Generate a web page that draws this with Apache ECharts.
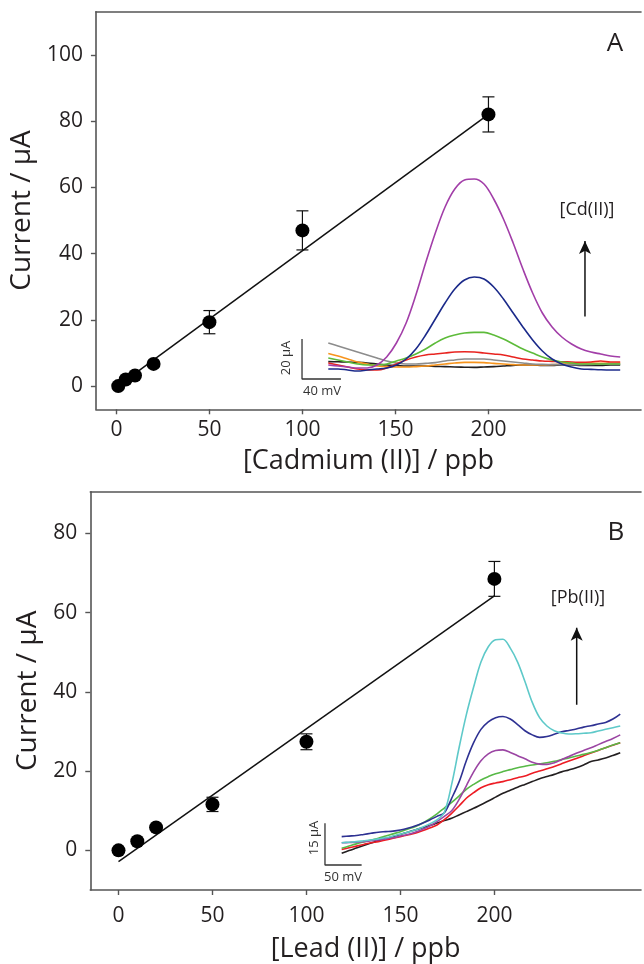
<!DOCTYPE html>
<html><head><meta charset="utf-8">
<script src="https://cdn.jsdelivr.net/npm/echarts@6/dist/echarts.min.js"></script>
<style>html,body{margin:0;padding:0;background:#fff}#c{width:644px;height:964px}</style>
</head><body><div id="c"></div>
<script>
// ---------- Panel A: Cadmium ----------
const cdConc = [1, 5, 10, 20, 50, 100, 200];
const cdCurrent = [0, 2, 3.2, 6.7, 19.3, 47, 82];
const cdErr = [0, 0, 0, 0, 3.5, 5.9, 5.3];
const cdFit = [[0, -0.3], [200, 82]];
const cdXTicks = [0, 50, 100, 150, 200];
const cdYTicks = [0, 20, 40, 60, 80, 100];

// Inset A voltammograms (mV, uA)
const cdPotential = [0,10,20,30,40,50,60,70,80,90,100,110,120,130,140,150,160,170,180,190,200,210,220,230,240,250,260,270,280,290,300];
const cdPurple = [7,6.5,6,5.5,5.5,7,11,18,28,42,58,73,86,95,99.5,100,97.5,90,80,68,55,43,33,26,21,17.5,15,13.5,12.5,11.5,11];
const cdNavy = [5,5,4.5,4,4.5,5,5.5,7,10,15,22,30,38,45,49.5,51,50,46,40,33,26,19.5,14,10,7.5,6,5,4.8,4.6,4.5,4.5];
const cdGreen = [10.5,9.5,8.5,7.5,7,7,7.5,9,10.5,12.5,15,18,20.5,22,23,23.3,23.3,22,20,17.5,15,13,11,9.5,8.5,8,7.5,7.5,7.5,7.5,7.5];
const cdRed = [8,7,6,5,4.5,4.5,5.5,7.5,9.5,11,12,12.5,13,13.5,13.6,13.5,13,12.5,12,11,10,9.5,9,8.8,8.6,8.5,8.3,8.5,9,8.5,8.5];
const cdGray = [18,16.5,15,13.5,12,10.5,9,8,7.5,7.5,7.8,8.2,9,9.5,10,10,10,9.5,9,8.5,8,7.5,7.3,7.2,7.2,7.2,7.2,7.3,7.4,7.5,7.5];
const cdOrange = [12.8,11.5,10,8.5,7.5,6.5,6.2,6,6,6.2,6.5,7,7.5,8,8.3,8.3,8.2,7.8,7.5,7.2,7,7,7,7.2,7.5,7.8,8,8,7.8,7.8,8];
const cdBlack = [8.7,8.6,8.5,8.3,8,7.5,7,6.8,6.5,6.5,6.5,6.3,6.2,6,5.9,5.8,6,6.2,6.5,6.8,7,7,6.8,6.8,7,7,6.8,6.8,6.8,7,7];

// ---------- Panel B: Lead ----------
const pbConc = [0, 10, 20, 50, 100, 200];
const pbCurrent = [0, 2.3, 5.8, 11.6, 27.4, 68.5];
const pbErr = [0, 0, 0, 1.8, 2, 4.4];
const pbFit = [[0, -2.85], [200, 64.2]];
const pbXTicks = [0, 50, 100, 150, 200];
const pbYTicks = [0, 20, 40, 60, 80];

const pbPotential = [0,10,20,30,40,50,60,70,80,90,100,110,120,130,140,150,160,170,180,190,200,210,220,230,240,250,260,270,280,290,300,310,320,330,340,350,360,370,380];
const pbNavy = [10.2,10.4,10.6,11,11.4,11.8,12,12.2,12.6,13.2,14,15,16.2,17.5,18.8,24,29.8,37.5,44,48.8,51.5,53,53.4,52.5,50.5,48.3,46.8,45.9,46.2,47,47.9,48.4,48.9,49.6,50.1,50.7,51.3,52.5,54.3];
const pbCyan = [8,8.2,8.4,8.7,9,9.4,9.8,10.4,11.1,11.8,12.6,13.6,14.8,16.2,19,29,42,54,64,73,78.5,81,81.2,78,73,66,58.5,53,50,48.3,47.5,47.1,47.2,47.4,47.6,48.2,48.8,49.4,50];
const pbPurple = [8,8.1,8.2,8.4,8.7,9,9.4,9.8,10.4,11,11.8,12.8,14,15.6,17.5,19.5,23.5,28.5,33.5,37.5,40,41.2,41.4,40.5,39.3,38.2,37,36.3,36.2,36.8,37.9,39,40.2,41.2,42.2,43.3,44.4,45.5,46.8];
const pbGreen = [6,6.8,7.6,8.3,9,9.6,10.4,11.2,12,12.9,13.8,15,16.6,18.4,20.5,22.5,24.8,27.2,29,30.6,31.8,32.8,33.6,34.3,35,35.5,36,36.4,36.8,37.3,37.9,38.5,39.2,39.8,40.5,41.3,42.2,43.2,44];
const pbRed = [5.6,6.2,6.8,7.4,8,8.4,9,9.6,10.2,10.8,11.4,12.3,13.3,14.4,16.3,18.6,21.2,24,26,27.8,28.9,29.5,30,30.7,31.4,32,33,33.8,34.6,35.4,36.4,37.4,38.3,39.3,40.3,41.2,42.2,43.1,44];
const pbBlack = [4.2,5.2,6.1,7,7.9,8.8,9.5,10.2,11,11.8,12.6,13.4,14.2,15.1,16,16.8,18,19.2,20.4,21.7,23,24.4,25.8,26.9,28,29,30,31,31.8,32.6,33.5,34.2,35,36,37.2,37.8,38.5,39.4,40.4];

const FONT = "'Open Sans', 'DejaVu Sans', sans-serif";
const TXT = '#231f20';
const AX = '#555';

function zip(xs, ys) { return xs.map((x, i) => [x, ys[i]]); }
function errData(xs, ys, es) {
  const out = [];
  xs.forEach((x, i) => { if (es[i] > 0) out.push([x, ys[i] - es[i], ys[i] + es[i]]); });
  return out;
}
function errRender(params, api) {
  const x = api.value(0), lo = api.value(1), hi = api.value(2);
  const p1 = api.coord([x, hi]), p2 = api.coord([x, lo]);
  const w = 6;
  const style = { stroke: '#111', lineWidth: 1.2 };
  return { type: 'group', children: [
    { type: 'line', shape: { x1: p1[0], y1: p1[1], x2: p2[0], y2: p2[1] }, style },
    { type: 'line', shape: { x1: p1[0] - w, y1: p1[1], x2: p1[0] + w, y2: p1[1] }, style },
    { type: 'line', shape: { x1: p2[0] - w, y1: p2[1], x2: p2[0] + w, y2: p2[1] }, style }
  ]};
}

function mainX(gi, min, max, ticks, name, labelMargin, nameGap) {
  return {
    type: 'value', gridIndex: gi, min, max, position: 'bottom',
    splitLine: { show: false },
    axisLine: { show: true, onZero: false, lineStyle: { color: AX, width: 1.6 } },
    axisTick: { show: true, inside: false, length: 5, customValues: ticks, lineStyle: { color: AX, width: 1.4 } },
    axisLabel: { customValues: ticks, fontSize: 21, fontFamily: FONT, color: TXT, margin: labelMargin },
    name, nameLocation: 'middle', nameGap,
    nameTextStyle: { fontSize: 27, fontFamily: FONT, color: TXT }
  };
}
function topX(gi, min, max) {
  return { type: 'value', gridIndex: gi, min, max, position: 'top',
    splitLine: { show: false }, axisTick: { show: false }, axisLabel: { show: false },
    axisLine: { show: true, onZero: false, lineStyle: { color: AX, width: 1.6 } } };
}
function mainY(gi, min, max, ticks, nameGap) {
  return {
    type: 'value', gridIndex: gi, min, max,
    splitLine: { show: false },
    axisLine: { show: true, onZero: false, lineStyle: { color: AX, width: 1.6 } },
    axisTick: { show: true, inside: false, length: 5, customValues: ticks, lineStyle: { color: AX, width: 1.4 } },
    axisLabel: { customValues: ticks, fontSize: 21, fontFamily: FONT, color: TXT, margin: 13 },
    name: 'Current / μA', nameLocation: 'middle', nameGap: nameGap, nameRotate: 90,
    nameTextStyle: { fontSize: 28, fontFamily: FONT, color: TXT }
  };
}
function hiddenAxis(gi, min, max) {
  return { type: 'value', gridIndex: gi, min, max, show: false, splitLine: { show: false } };
}
function curve(xi, yi, xs, ys, color) {
  return { type: 'line', xAxisIndex: xi, yAxisIndex: yi, data: zip(xs, ys), showSymbol: false,
    smooth: 0.35, lineStyle: { color, width: 1.6 }, itemStyle: { color }, silent: true, z: 3 };
}
function arrow(xi, yi, x, y0, y1) {
  return { type: 'line', xAxisIndex: xi, yAxisIndex: yi, showSymbol: true, showAllSymbol: true,
    data: [ { value: [x, y0], symbol: 'none' }, { value: [x, y1], symbol: 'arrow', symbolSize: [9, 13] } ],
    itemStyle: { color: '#111', opacity: 1 }, lineStyle: { color: '#111', width: 1.5 }, z: 4 };
}

const chart = echarts.init(document.getElementById('c'), null, { renderer: 'canvas' });
const option = {
  animation: false,
  backgroundColor: '#fff',
  grid: [
    { left: 91, top: 11.7, width: 550, height: 397.6 },
    { left: 90.3, top: 491.7, width: 550.7, height: 398.3 },
    { left: 299.1, top: 159, width: 321.1, height: 240 },
    { left: 319.7, top: 614.8, width: 302, height: 264.1 }
  ],
  xAxis: [
    mainX(0, -11, 282, cdXTicks, '[Cadmium (II)] / ppb', 10, 39),
    topX(0, -11, 282),
    mainX(1, -15, 278, pbXTicks, '[Lead (II)] / ppb', 16, 46),
    topX(1, -15, 278),
    hiddenAxis(2, -30, 300),
    hiddenAxis(3, -30, 382)
  ],
  yAxis: [
    mainY(0, -7, 113, cdYTicks, 48),
    mainY(1, -10, 90.5, pbYTicks, 48),
    hiddenAxis(2, -10, 110),
    hiddenAxis(3, -5, 90)
  ],
  series: [
    // Panel A
    { type: 'line', xAxisIndex: 0, yAxisIndex: 0, data: cdFit, showSymbol: false, lineStyle: { color: '#111', width: 1.5 }, z: 2 },
    { type: 'custom', xAxisIndex: 0, yAxisIndex: 0, data: errData(cdConc, cdCurrent, cdErr), renderItem: errRender, z: 4 },
    { type: 'scatter', xAxisIndex: 0, yAxisIndex: 0, data: zip(cdConc, cdCurrent), symbolSize: 14, itemStyle: { color: '#000', opacity: 1 }, z: 5 },
    curve(4, 2, cdPotential, cdBlack, '#231f20'),
    curve(4, 2, cdPotential, cdOrange, '#f7941d'),
    curve(4, 2, cdPotential, cdGray, '#8c8c8c'),
    curve(4, 2, cdPotential, cdRed, '#e8231f'),
    curve(4, 2, cdPotential, cdGreen, '#5dbb3a'),
    curve(4, 2, cdPotential, cdNavy, '#1b2a8a'),
    curve(4, 2, cdPotential, cdPurple, '#a23ea8'),
    { type: 'line', xAxisIndex: 4, yAxisIndex: 2, data: [[-27, 20], [-27, 0], [13, 0]], showSymbol: false, lineStyle: { color: '#333', width: 1.3 } },
    arrow(4, 2, 263.8, 31.2, 69),
    // Panel B
    { type: 'line', xAxisIndex: 2, yAxisIndex: 1, data: pbFit, showSymbol: false, lineStyle: { color: '#111', width: 1.5 }, z: 2 },
    { type: 'custom', xAxisIndex: 2, yAxisIndex: 1, data: errData(pbConc, pbCurrent, pbErr), renderItem: errRender, z: 4 },
    { type: 'scatter', xAxisIndex: 2, yAxisIndex: 1, data: zip(pbConc, pbCurrent), symbolSize: 14, itemStyle: { color: '#000', opacity: 1 }, z: 5 },
    curve(5, 3, pbPotential, pbBlack, '#231f20'),
    curve(5, 3, pbPotential, pbRed, '#ed1c24'),
    curve(5, 3, pbPotential, pbGreen, '#57b947'),
    curve(5, 3, pbPotential, pbPurple, '#9b45a3'),
    curve(5, 3, pbPotential, pbNavy, '#2e3192'),
    curve(5, 3, pbPotential, pbCyan, '#5ec9c9'),
    { type: 'line', xAxisIndex: 5, yAxisIndex: 3, data: [[-22.8, 15], [-22.8, 0], [27.2, 0]], showSymbol: false, lineStyle: { color: '#333', width: 1.3 } },
    arrow(5, 3, 320.6, 57.6, 85.3)
  ],
  graphic: [
    { type: 'text', x: 615, y: 44, style: { text: 'A', font: '26px ' + FONT, fill: TXT, textAlign: 'center', textVerticalAlign: 'middle' } },
    { type: 'text', x: 616, y: 533, style: { text: 'B', font: '26px ' + FONT, fill: TXT, textAlign: 'center', textVerticalAlign: 'middle' } },
    { type: 'text', x: 587, y: 210, style: { text: '[Cd(II)]', font: '18px ' + FONT, fill: TXT, textAlign: 'center', textVerticalAlign: 'middle' } },
    { type: 'text', x: 578, y: 598, style: { text: '[Pb(II)]', font: '18px ' + FONT, fill: TXT, textAlign: 'center', textVerticalAlign: 'middle' } },
    { type: 'text', x: 286, y: 358, rotation: Math.PI / 2, style: { text: '20 μA', font: '13px ' + FONT, fill: '#333', textAlign: 'center', textVerticalAlign: 'middle' } },
    { type: 'text', x: 322, y: 391, style: { text: '40 mV', font: '13px ' + FONT, fill: '#333', textAlign: 'center', textVerticalAlign: 'middle' } },
    { type: 'text', x: 314, y: 838, rotation: Math.PI / 2, style: { text: '15 μA', font: '13px ' + FONT, fill: '#333', textAlign: 'center', textVerticalAlign: 'middle' } },
    { type: 'text', x: 343, y: 877, style: { text: '50 mV', font: '13px ' + FONT, fill: '#333', textAlign: 'center', textVerticalAlign: 'middle' } }
  ]
};
chart.setOption(option);
</script>
</body></html>
